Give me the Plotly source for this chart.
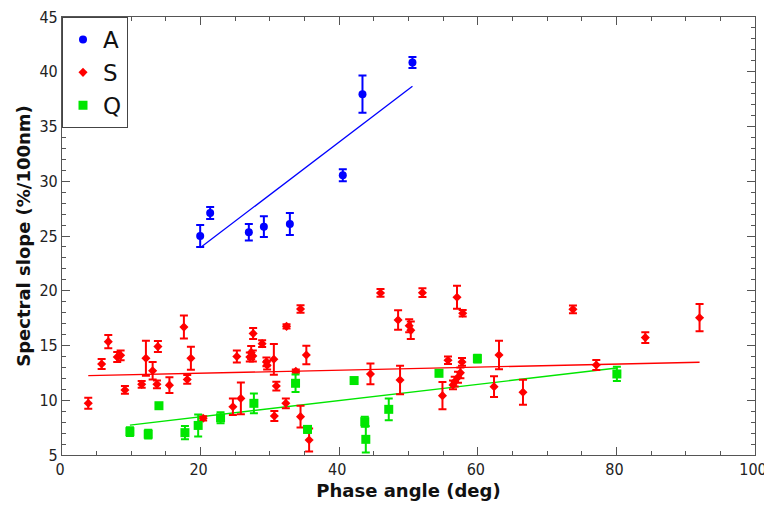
import plotly.graph_objects as go

# ---- Data ----
A_phase = [19.94, 21.38, 26.96, 29.13, 32.88, 40.52, 43.36, 50.57]
A_slope = [25.0, 27.1, 25.35, 25.85, 26.1, 30.55, 37.95, 40.85]
A_err = [1.0, 0.55, 0.75, 0.95, 1.0, 0.55, 1.7, 0.5]

S_phase = [3.79, 5.72, 6.68, 7.97, 8.46, 9.08, 11.5, 12.11, 13.08, 13.84,
           13.7, 15.5, 17.59, 18.07, 18.6, 20.37, 24.66, 25.23, 25.81, 27.1,
           27.3, 27.54, 27.58, 28.88, 29.5, 29.6, 30.57, 30.93, 30.64, 32.3,
           32.4, 33.74, 34.42, 34.42, 35.26, 35.66, 44.51, 45.96, 48.5, 48.78,
           50.1, 50.33, 52.01, 54.9, 55.7, 56.42, 56.67, 57.0, 57.14, 57.49,
           57.72, 57.82, 62.34, 63.06, 66.52, 73.73, 77.1, 84.17, 92.0]
S_slope = [9.72, 13.31, 15.35, 13.95, 14.1, 10.94, 11.45, 13.83, 12.7, 14.9,
           11.45, 11.38, 16.68, 11.9, 13.83, 8.35, 9.41, 14.0, 10.17, 13.95,
           14.35, 14.05, 16.1, 15.17, 13.5, 13.2, 13.74, 11.3, 8.56, 9.72,
           16.75, 12.65, 18.33, 8.5, 14.13, 6.37, 12.4, 19.8, 17.33, 11.85,
           16.8, 16.4, 19.82, 10.42, 13.65, 11.4, 11.7, 19.4, 12.1, 12.5,
           13.5, 17.94, 11.24, 14.13, 10.73, 18.3, 13.22, 15.72, 17.54]
S_err = [0.5, 0.45, 0.6, 0.45, 0.45, 0.35, 0.3, 1.6, 0.8, 0.5,
         0.35, 0.72, 1.05, 0.4, 1.05, 0.2, 0.75, 0.55, 1.45, 0.4,
         0.6, 0.5, 0.5, 0.3, 0.4, 0.4, 1.4, 0.4, 0.45, 0.45,
         0.2, 0.15, 0.35, 1.0, 0.85, 1.05, 0.95, 0.35, 0.9, 1.3,
         0.6, 0.8, 0.4, 1.25, 0.35, 0.4, 0.45, 1.05, 0.5, 0.5,
         0.35, 0.3, 0.95, 1.3, 1.15, 0.35, 0.45, 0.5, 1.25]

Q_phase = [9.8, 12.44, 13.99, 17.74, 19.65, 22.88, 27.69, 33.7, 35.43, 42.15,
           43.69, 43.84, 47.15, 54.4, 59.94, 80.07]
Q_slope = [7.13, 6.9, 9.5, 7.04, 7.7, 8.4, 9.72, 11.55, 7.34, 11.8,
           8.04, 6.43, 9.17, 12.46, 13.8, 12.4]
Q_err = [0.4, 0.4, 0.2, 0.6, 1.0, 0.5, 0.9, 0.8, 0.3, 0.2,
         0.45, 1.2, 1.0, 0.2, 0.35, 0.65]

# linear fits (slope, intercept)
fit_A = (0.482, 14.31)
fit_S = (0.0139, 12.19)
fit_Q = (0.0741, 7.01)

x_ticks = [0, 20, 40, 60, 80, 100]
y_ticks = [5, 10, 15, 20, 25, 30, 35, 40, 45]

colors = {"A": "#0000ff", "S": "#ff0000", "Q": "#00e600"}
symbols = {"A": "circle", "S": "diamond", "Q": "square"}
sizes = {"A": 8, "S": 7, "Q": 9}

fig = go.Figure()
groups = [("A", A_phase, A_slope, A_err, fit_A),
          ("S", S_phase, S_slope, S_err, fit_S),
          ("Q", Q_phase, Q_slope, Q_err, fit_Q)]

for name, xs, ys, es, fit in groups:
    x0, x1 = min(xs), max(xs)
    fig.add_trace(go.Scatter(
        x=[x0, x1], y=[fit[0] * x0 + fit[1], fit[0] * x1 + fit[1]],
        mode="lines", line=dict(color=colors[name], width=1.3),
        showlegend=False, hoverinfo="skip"))

for name, xs, ys, es, fit in groups:
    fig.add_trace(go.Scatter(
        x=xs, y=ys, mode="markers", name=name,
        marker=dict(color=colors[name], symbol=symbols[name], size=sizes[name],
                    line=dict(width=0)),
        error_y=dict(type="data", array=es, visible=True,
                     color=colors[name], thickness=2, width=4)))

font_family = "DejaVu Sans Condensed, Liberation Sans Narrow, DejaVu Sans, sans-serif"
axis_common = dict(
    showline=True, linecolor="#555555", linewidth=1.2, mirror="allticks",
    ticks="inside", ticklen=8, tickcolor="#555555", tickwidth=1,
    showgrid=False, zeroline=False, automargin=False,
    ticklabeloverflow="allow",
    tickfont=dict(family=font_family, size=16, color="#222222"),
)

fig.update_layout(
    width=764, height=497,
    margin=dict(l=54, r=17, t=9, b=50),
    paper_bgcolor="white", plot_bgcolor="white",
    xaxis=dict(range=[0, 100], tickvals=x_ticks, ticklabelshift=-2,
               minor=dict(dtick=5, ticks="inside", ticklen=4, tickcolor="#555555"),
               title=dict(text="<b>Phase angle (deg)</b>", standoff=6,
                          font=dict(family="DejaVu Sans, sans-serif", size=18, color="#111111")),
               **axis_common),
    yaxis=dict(range=[5, 45], tickvals=y_ticks,
               minor=dict(dtick=1, ticks="inside", ticklen=4, tickcolor="#555555"),
               title=dict(text="<b>Spectral slope (%/100nm)</b>", standoff=4,
                          font=dict(family="DejaVu Sans, sans-serif", size=18, color="#111111")),
               **axis_common),
    legend=dict(x=0, y=1, xanchor="left", yanchor="top",
                bgcolor="white", bordercolor="#444444", borderwidth=1,
                font=dict(family="DejaVu Sans, sans-serif", size=23, color="#111111"),
                itemwidth=30, tracegroupgap=0),
    showlegend=True,
)

fig.write_html("out.html")
